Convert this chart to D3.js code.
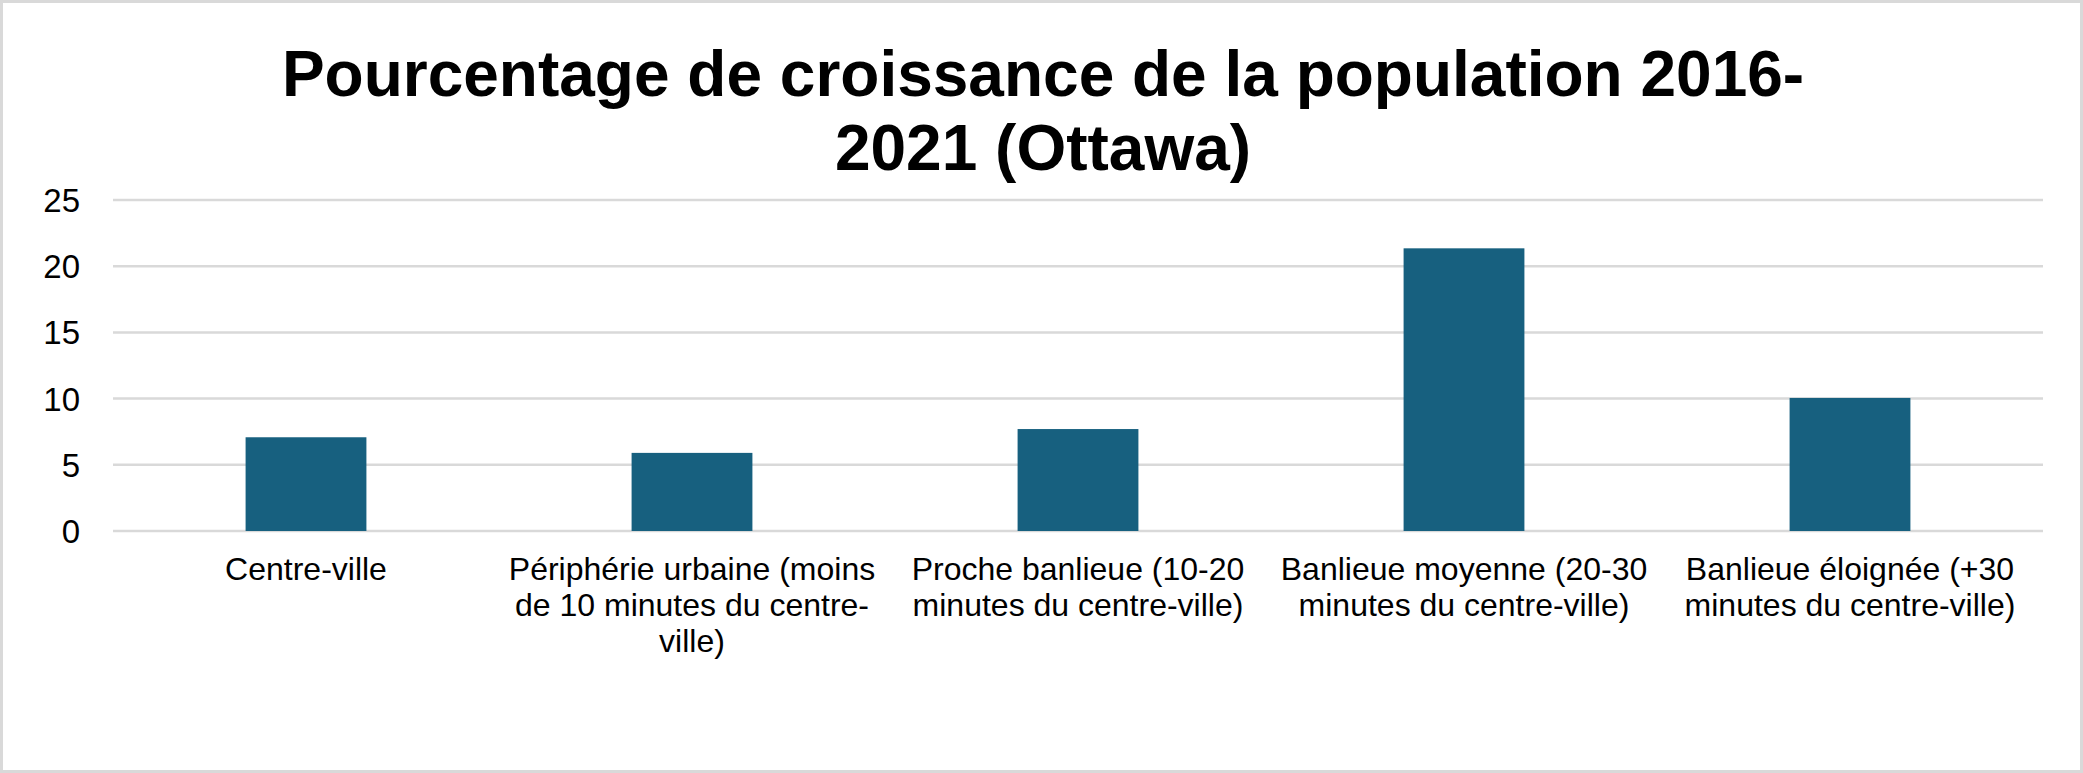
<!DOCTYPE html>
<html>
<head>
<meta charset="utf-8">
<script src="https://cdn.jsdelivr.net/npm/d3@7"></script>
<style>
  html, body { margin: 0; padding: 0; background: #fff; }
  svg { display: block; }
</style>
</head>
<body>
<svg id="chart" width="2083" height="773"></svg>
<script>
const titleLines = ["Pourcentage de croissance de la population 2016-", "2021 (Ottawa)"];
const categories = [
  "Centre-ville",
  "Périphérie urbaine (moins de 10 minutes du centre-ville)",
  "Proche banlieue (10-20 minutes du centre-ville)",
  "Banlieue moyenne (20-30 minutes du centre-ville)",
  "Banlieue éloignée (+30 minutes du centre-ville)"
];
const categoryLines = [
  ["Centre-ville"],
  ["Périphérie urbaine (moins", "de 10 minutes du centre-", "ville)"],
  ["Proche banlieue (10-20", "minutes du centre-ville)"],
  ["Banlieue moyenne (20-30", "minutes du centre-ville)"],
  ["Banlieue éloignée (+30", "minutes du centre-ville)"]
];
const values = [7.08, 5.9, 7.7, 21.35, 10.05];
const yTicks = [0, 5, 10, 15, 20, 25];

const W = 2083, H = 773;
const svg = d3.select("#chart");
const font = "'Liberation Sans', Arial, sans-serif";

// outer border
svg.append("rect").attr("x", 1.5).attr("y", 1.5).attr("width", W - 3).attr("height", H - 3)
  .attr("fill", "#fff").attr("stroke", "#d9d9d9").attr("stroke-width", 3);

const plot = { left: 113, right: 2043, top: 200, bottom: 531 };

const x = d3.scaleBand().domain(categories).range([plot.left, plot.right]).paddingInner(0.687).paddingOuter(0.3435);
const y = d3.scaleLinear().domain([0, 25]).range([plot.bottom, plot.top]);

// gridlines
svg.append("g").selectAll("line").data(yTicks).join("line")
  .attr("x1", plot.left).attr("x2", plot.right)
  .attr("y1", d => y(d)).attr("y2", d => y(d))
  .attr("stroke", "#d9d9d9").attr("stroke-width", 2.5);

// y axis labels
const yAxis = d3.axisLeft(y).tickValues(yTicks).tickSize(0).tickPadding(0);
const gy = svg.append("g").attr("transform", `translate(80,0)`).call(yAxis);
gy.select(".domain").remove();
gy.selectAll("text").attr("font-family", font).attr("font-size", 33).attr("fill", "#000")
  .attr("dy", "0.35em");

// bars
svg.append("g").selectAll("rect").data(values).join("rect")
  .attr("x", (d, i) => x(categories[i]))
  .attr("width", x.bandwidth())
  .attr("y", d => y(d))
  .attr("height", d => y(0) - y(d))
  .attr("fill", "#17607f");

// category labels
const gx = svg.append("g");
categoryLines.forEach((lines, i) => {
  const cx = x(categories[i]) + x.bandwidth() / 2;
  const t = gx.append("text").attr("text-anchor", "middle")
    .attr("font-family", font).attr("font-size", 32).attr("fill", "#000");
  lines.forEach((ln, j) => {
    t.append("tspan").attr("x", cx).attr("y", 580 + j * 36).text(ln);
  });
});

// title
const tt = svg.append("text").attr("text-anchor", "middle")
  .attr("font-family", font).attr("font-weight", "bold").attr("font-size", 64).attr("fill", "#000");
titleLines.forEach((ln, j) => {
  tt.append("tspan").attr("x", 1043).attr("y", 96 + j * 74).text(ln);
});
</script>
</body>
</html>
